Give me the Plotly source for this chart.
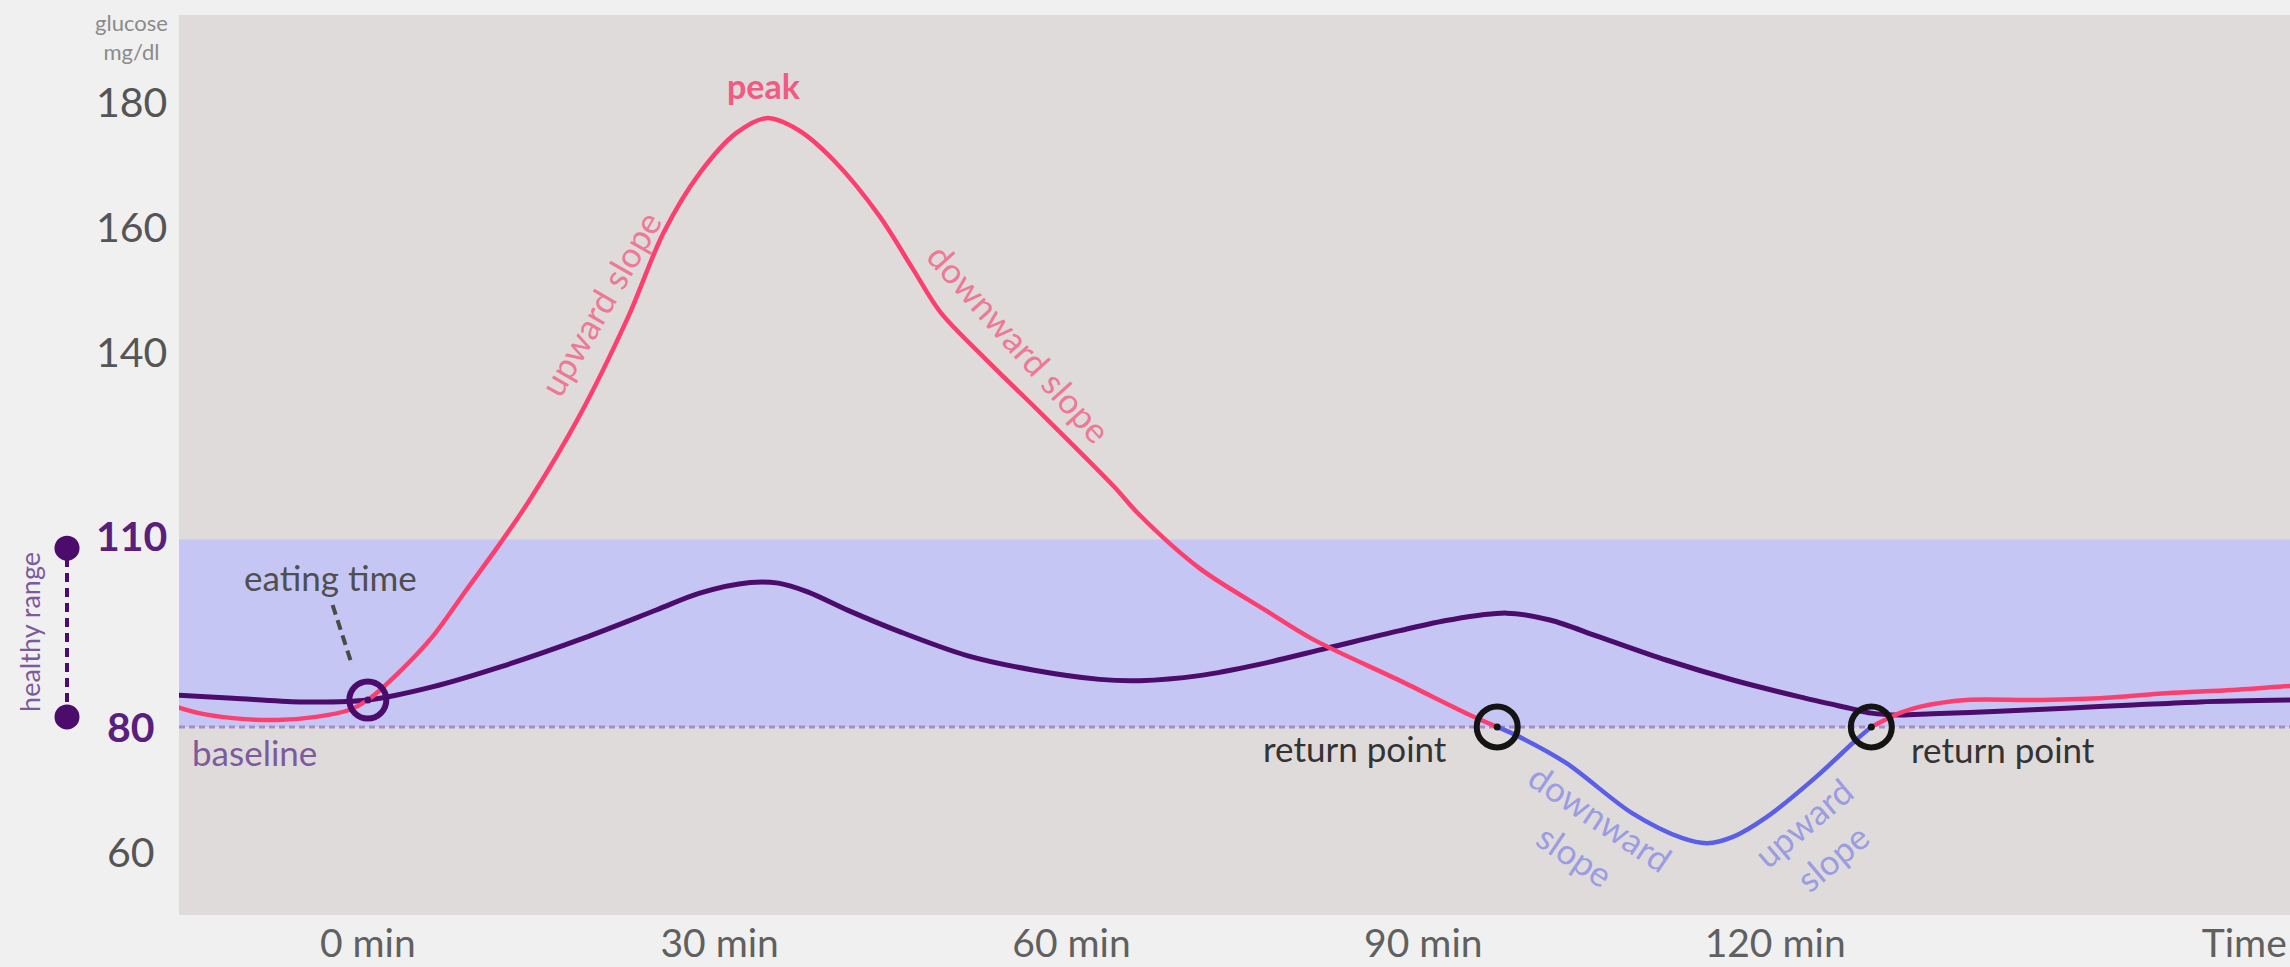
import plotly.graph_objects as go

# ---------------- data (minutes, mg/dl) ----------------
spike_t = [-16.3, -14.4, -11.5, -7.7, -4.4, -1.6, 0, 2.7, 5.5, 8.4, 11.3, 13.8, 18.0, 22.2, 25.2,
           28.3, 31.4, 34.0, 36.7, 39.7, 43.6, 46.5, 48.8, 52.7, 57.6, 63.7, 65.6, 70.9, 76.6,
           80.6, 88.0, 94.2, 96.3]
spike_v = [83.2, 82.2, 81.4, 81.1, 81.6, 82.7, 84.3, 88.8, 94.4, 101.9, 109.4, 116.3, 129.6, 145.6, 159.0,
           168.6, 175.0, 177.4, 175.5, 170.7, 161.8, 153.2, 146.4, 138.8, 129.8, 118.3, 114.3, 105.4, 98.6,
           94.0, 87.4, 81.7, 80.0]

dip_t = [96.3, 98.2, 102.2, 107.8, 112.1, 114.2, 116.4, 119.3, 123.5, 126.9, 128.2]
dip_v = [80.0, 78.4, 74.2, 66.2, 62.2, 61.4, 62.4, 65.6, 72.0, 77.9, 80.0]

after_t = [128.2, 130.6, 132.3, 136.3, 141.9, 147.7, 153.4, 159.0, 164.2]
after_v = [80.0, 82.2, 83.2, 84.3, 84.3, 84.6, 85.4, 85.9, 86.6]

steady_t = [-16.3, -11.5, -5.8, 0, 5.5, 11.3, 18.4, 24.6, 28.3, 32.6, 35.0, 37.5, 41.0, 45.4, 51.1, 56.7,
            62.4, 65.8, 70.9, 76.0, 81.8, 88.0, 92.2, 97.1, 100.8, 105.0, 110.7, 116.4, 122.1,
            126.3, 128.2, 130.6, 133.4, 139.1, 144.8, 150.5, 156.2, 164.2]
steady_v = [85.1, 84.6, 84.0, 84.3, 86.4, 89.6, 94.2, 98.7, 101.4, 103.1, 103.0, 101.6, 98.6, 95.2, 91.4, 89.1,
            87.6, 87.4, 88.2, 90.0, 92.6, 95.4, 97.1, 98.2, 97.1, 94.4, 90.7, 87.5, 84.8,
            83.0, 82.2, 81.9, 82.1, 82.5, 83.0, 83.5, 84.0, 84.3]

eat_t, eat_v = [0], [84.3]
return_t, return_v = [96.3, 128.2], [80, 80]

x_tickvals = [0, 30, 60, 90, 120, 160]
x_ticktext = ["0 min", "30 min", "60 min", "90 min", "120 min", "Time"]
y_ticks = [180, 160, 140, 110, 80, 60]
range_low, range_high = 80, 110

PINK = "#fd3f6f"
PURPLE = "#4b0c6b"
BLUE = "#5a5fe6"
FONT = "Lato"

fig = go.Figure()

fig.add_shape(type="rect", xref="paper", x0=0, x1=1, yref="y", y0=range_low, y1=range_high,
              fillcolor="#c6c6f4", line_width=0, layer="below")
fig.add_shape(type="line", xref="paper", x0=0, x1=1, yref="y", y0=range_low, y1=range_low,
              line=dict(color="#a38fc6", width=3, dash="6px,4px"), layer="below")

fig.add_trace(go.Scatter(x=steady_t, y=steady_v, mode="lines",
                         line=dict(color=PURPLE, width=5, shape="spline", smoothing=0.9)))
fig.add_trace(go.Scatter(x=spike_t, y=spike_v, mode="lines",
                         line=dict(color=PINK, width=4.5, shape="spline", smoothing=0.9)))
fig.add_trace(go.Scatter(x=dip_t, y=dip_v, mode="lines",
                         line=dict(color=BLUE, width=4.5, shape="spline", smoothing=0.9)))
fig.add_trace(go.Scatter(x=after_t, y=after_v, mode="lines",
                         line=dict(color=PINK, width=4.5, shape="spline", smoothing=0.9)))

fig.add_trace(go.Scatter(x=eat_t, y=eat_v, mode="markers",
                         marker=dict(symbol="circle-open", size=37, color=PURPLE, line=dict(width=6, color=PURPLE))))
fig.add_trace(go.Scatter(x=eat_t, y=eat_v, mode="markers", marker=dict(size=7, color=PURPLE)))
fig.add_trace(go.Scatter(x=return_t, y=return_v, mode="markers",
                         marker=dict(symbol="circle-open", size=41, color="#141414", line=dict(width=6, color="#141414"))))
fig.add_trace(go.Scatter(x=return_t, y=return_v, mode="markers", marker=dict(size=7, color="#141414")))

# eating-time pointer
fig.add_shape(type="line", x0=-3.0, y0=99.5, x1=-1.4, y1=90.2,
              line=dict(color="#4a4a4a", width=4, dash="10px,6px"))

# healthy range marker left of the axis
mx = (67 - 179) / 2111
fig.add_shape(type="line", xref="paper", x0=mx, x1=mx, yref="y", y0=81.6, y1=108.6,
              line=dict(color=PURPLE, width=4, dash="9px,6px"))
for yy in (81.6, 108.6):
    fig.add_shape(type="circle", xref="paper", xsizemode="pixel", xanchor=mx, x0=-12.5, x1=12.5,
                  yref="y", ysizemode="pixel", yanchor=yy, y0=-12.5, y1=12.5,
                  fillcolor=PURPLE, line_width=0)

ann = []
tx = (131 - 179) / 2111
for v in y_ticks:
    hl = v in (range_low, range_high)
    ann.append(dict(xref="paper", x=tx, yref="y", y=v, text=f"<b>{v}</b>" if hl else str(v),
                    showarrow=False, xanchor="center", yanchor="middle",
                    yshift=4 if v == range_high else 0,
                    font=dict(family=FONT, size=41, color="#5a1e7e" if hl else "#555555")))
ann += [
    dict(xref="paper", x=tx, yref="paper", y=1 - (37 - 15) / 900, text="glucose<br>mg/dl", showarrow=False,
         xanchor="center", yanchor="middle", align="center",
         font=dict(family=FONT, size=22, color="#8a8a8a")),
    dict(xref="paper", x=(30 - 179) / 2111, yref="y", y=95.2, text="healthy range", showarrow=False,
         textangle=-90, xanchor="center", yanchor="middle", font=dict(family=FONT, size=27, color="#7d5a9c")),
    dict(x=33.8, y=182.6, text="<b>peak</b>", showarrow=False, xanchor="center", yanchor="middle",
         font=dict(family=FONT, size=34, color="#f05a83")),
    dict(x=19.8, y=147.8, text="upward slope", showarrow=False, textangle=-60,
         xanchor="center", yanchor="middle", font=dict(family=FONT, size=35, color="#ee7896")),
    dict(x=55.6, y=141.4, text="downward slope", showarrow=False, textangle=48,
         xanchor="center", yanchor="middle", font=dict(family=FONT, size=35, color="#ee7896")),
    dict(x=-3.2, y=104.0, text="eating time", showarrow=False, xanchor="center", yanchor="middle",
         font=dict(family=FONT, size=35, color="#4f4f4f")),
    dict(x=-9.7, y=76.0, text="baseline", showarrow=False, xanchor="center", yanchor="middle",
         font=dict(family=FONT, size=35, color="#7d5a9c")),
    dict(x=84.2, y=76.6, text="return point", showarrow=False, xanchor="center", yanchor="middle",
         font=dict(family=FONT, size=35, color="#333333")),
    dict(x=139.4, y=76.5, text="return point", showarrow=False, xanchor="center", yanchor="middle",
         font=dict(family=FONT, size=35, color="#333333")),
    dict(x=104.0, y=62.6, text="downward<br>slope", showarrow=False, textangle=34,
         xanchor="center", yanchor="middle", font=dict(family=FONT, size=35, color="#9c9ce2")),
    dict(x=123.6, y=61.9, text="upward<br>slope", showarrow=False, textangle=-40,
         xanchor="center", yanchor="middle", font=dict(family=FONT, size=35, color="#9c9ce2")),
]

fig.update_layout(
    width=2290, height=967,
    margin=dict(l=179, r=0, t=15, b=52, autoexpand=False),
    paper_bgcolor="#f0f0f0", plot_bgcolor="#dfdbdb",
    showlegend=False, annotations=ann,
    xaxis=dict(range=[-16.1, 163.9], showgrid=False, zeroline=False, showline=False,
               tickvals=x_tickvals, ticktext=x_ticktext, ticks="", automargin=False,
               tickfont=dict(family=FONT, size=39, color="#606060"), ticklabelstandoff=2),
    yaxis=dict(range=[49.9, 193.9], showgrid=False, zeroline=False, showline=False,
               showticklabels=False, ticks="", automargin=False),
)

fig.write_html("out.html", config={"displayModeBar": False},
               post_script="document.body.style.margin='0';document.body.style.background='#f0f0f0';"
                           "document.documentElement.style.overflow='hidden';")
